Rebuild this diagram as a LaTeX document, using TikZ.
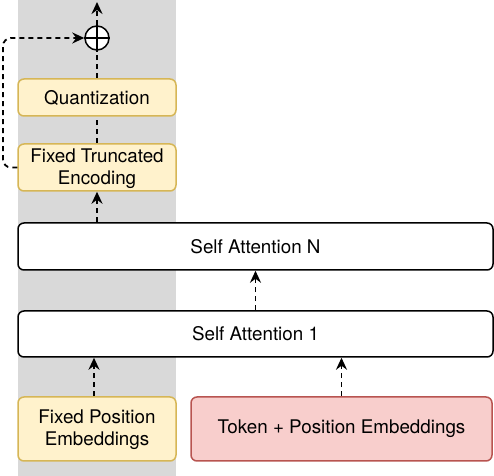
\documentclass[tikz,border=0pt]{standalone}
\usepackage{fontspec}
\setmainfont{TeX Gyre Heros}
\usetikzlibrary{arrows.meta, positioning, calc}
\definecolor{bggray}{RGB}{217,217,217}
\definecolor{fixfill}{HTML}{FFF2CC}
\definecolor{fixdraw}{HTML}{D6B656}
\definecolor{tokfill}{HTML}{F8CECC}
\definecolor{tokdraw}{HTML}{B85450}

\begin{document}
\begin{tikzpicture}[
    x=0.5pt, y=-0.5pt,
    every node/.style={font=\fontsize{9.4}{11}\selectfont, align=center, inner sep=0pt, line width=0.75pt},
    fixbox/.style={draw=fixdraw, fill=fixfill, rounded corners=3pt, minimum width=79pt},
    attbox/.style={draw=black, fill=white, rounded corners=3pt, minimum width=237.5pt},
    tokbox/.style={draw=tokdraw, fill=tokfill, rounded corners=3pt, minimum width=150.5pt, minimum height=32pt},
    flow/.style={line width=0.9pt, dash pattern=on 2.5pt off 2pt, -{Stealth[length=6pt, width=5.5pt, inset=2pt]}},
    link/.style={line width=0.9pt, dash pattern=on 2.5pt off 2pt}
]
    \useasboundingbox (0,0) rectangle (494,476);
    \fill[bggray] (18,0) rectangle (176,476);

    % fixed (left) column
    \node[circle, draw, fill=white, minimum size=12pt] (plus) at (97,38) {};
    \draw[line width=0.75pt] (plus.north) -- (plus.south) (plus.west) -- (plus.east);
    \node[fixbox, minimum height=18.5pt] (quant) at (97,97.5) {Quantization};
    \node[fixbox, minimum height=23.5pt, text depth=1pt] (trunc) at (97,167.5) {Fixed Truncated\\Encoding};
    \node[fixbox, minimum height=32pt, text depth=1pt] (fixpos) at (97,429) {Fixed Position\\Embeddings};

    % attention stack
    \node[attbox, minimum height=23.5pt] (attN) at (255.5,246.5) {Self Attention N};
    \node[attbox, minimum height=23pt] (att1) at (255.5,334) {Self Attention 1};
    \node[tokbox] (token) at (341.5,429) {Token + Position Embeddings};

    \coordinate (out) at (97,2);
    \coordinate (loop) at (3,0);

    % connectors
    \draw[flow] (plus.north) -- (out);
    \draw[link] (quant.north) -- (plus.south);
    \draw[link] (trunc.north) -- (quant.south);
    \draw[flow] (attN.north -| trunc.south) -- (trunc.south);
    \draw[flow] (att1.north -| attN.south) -- (attN.south);
    \draw[flow] ([xshift=-1.5pt]fixpos.north) -- ([xshift=-1.5pt]fixpos.north |- att1.south);
    \draw[flow] (token.north) -- (token.north |- att1.south);
    \draw[flow, rounded corners=4pt] (trunc.west) -- (trunc.west -| loop) -- (plus.west -| loop) -- (plus.west);
\end{tikzpicture}
\end{document}
